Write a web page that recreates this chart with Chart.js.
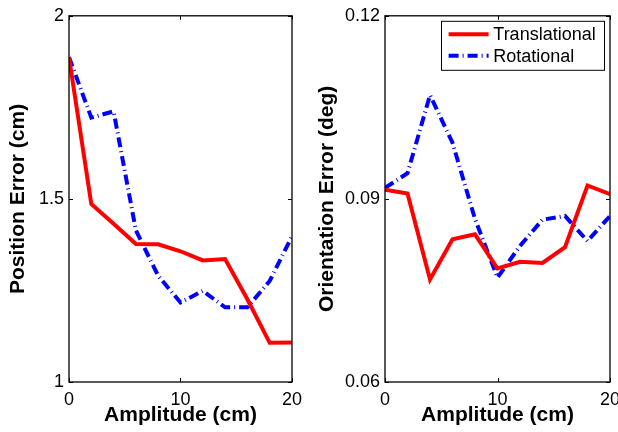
<!DOCTYPE html>
<html><head><meta charset="utf-8">
<script src="https://cdn.jsdelivr.net/npm/chart.js@4.4.1/dist/chart.umd.min.js"></script>
<style>
html,body{margin:0;padding:0;background:#fff;width:618px;height:432px;overflow:hidden;position:relative}
.c{position:absolute;top:0;height:432px}
</style></head><body>
<div class="c" style="left:0;width:309px"><canvas id="c1" width="309" height="432"></canvas></div>
<div class="c" style="left:309px;width:340px"><canvas id="c2" width="340" height="432"></canvas></div>
<script>
// ---- data ----
const amplitude = [0, 2, 4, 6, 8, 10, 12, 14, 16, 18, 20];
const posTranslational = [1.887, 1.486, 1.432, 1.377, 1.376, 1.357, 1.332, 1.336, 1.226, 1.107, 1.108];
const posRotational    = [1.887, 1.722, 1.739, 1.414, 1.290, 1.217, 1.249, 1.204, 1.204, 1.276, 1.398];
const oriTranslational = [0.0915, 0.0909, 0.0768, 0.0834, 0.0842, 0.0786, 0.0797, 0.0795, 0.0821, 0.0922, 0.0908];
const oriRotational    = [0.0918, 0.0942, 0.1070, 0.0992, 0.0867, 0.0771, 0.0823, 0.0866, 0.0872, 0.0831, 0.0872];
const xTickValues = [0, 10, 20];
const xTickLabels = ['0', '10', '20'];
const posTickValues = [1, 1.5, 2];
const posTickLabels = ['1', '1.5', '2'];
const oriTickValues = [0.06, 0.09, 0.12];
const oriTickLabels = ['0.06', '0.09', '0.12'];
const seriesLabels = ['Translational', 'Rotational'];
const xTitle = 'Amplitude (cm)';
const posTitle = 'Position Error (cm)';
const oriTitle = 'Orientation Error (deg)';

const FONT = '"Liberation Sans", Arial, Helvetica, sans-serif';

const framePlugin = {
  id: 'frame',
  afterDatasetsDraw(chart) {
    const {ctx, chartArea: a, scales: {x, y}} = chart;
    ctx.save();
    ctx.strokeStyle = '#000';
    ctx.lineWidth = 1.3;
    ctx.setLineDash([]);
    ctx.strokeRect(a.left, a.top, a.right - a.left, a.bottom - a.top);
    const L = 4;
    ctx.lineWidth = 1;
    ctx.beginPath();
    x.ticks.forEach(t => {
      const px = Math.round(x.getPixelForValue(t.value)) + 0.5;
      ctx.moveTo(px, a.bottom); ctx.lineTo(px, a.bottom - L);
      ctx.moveTo(px, a.top); ctx.lineTo(px, a.top + L);
    });
    y.ticks.forEach(t => {
      const py = Math.round(y.getPixelForValue(t.value)) + 0.5;
      ctx.moveTo(a.left, py); ctx.lineTo(a.left + L, py);
      ctx.moveTo(a.right, py); ctx.lineTo(a.right - L, py);
    });
    ctx.stroke();
    ctx.restore();
  }
};

const boxLegendPlugin = {
  id: 'boxLegend',
  afterDraw(chart, args, opts) {
    if (!opts.show) return;
    const {ctx, chartArea: a} = chart;
    const w = 163, h = 49;
    const x0 = a.right - 6 - w, y0 = a.top + 5;
    ctx.save();
    ctx.fillStyle = '#fff';
    ctx.fillRect(x0, y0, w, h);
    ctx.strokeStyle = '#000';
    ctx.lineWidth = 1;
    ctx.strokeRect(x0 + 0.5, y0 + 0.5, w, h);
    chart.data.datasets.forEach((ds, i) => {
      const yy = y0 + 13.4 + i * 21.6;
      ctx.beginPath();
      ctx.setLineDash(ds.borderDash || []);
      ctx.strokeStyle = ds.borderColor;
      ctx.lineWidth = ds.borderWidth;
      ctx.moveTo(x0 + 7.6, yy); ctx.lineTo(x0 + 47.6, yy);
      ctx.stroke();
      ctx.setLineDash([]);
      ctx.fillStyle = '#000';
      ctx.font = '18px ' + FONT;
      ctx.textBaseline = 'middle';
      ctx.textAlign = 'left';
      ctx.fillText(ds.label, x0 + 52.3, yy + 1);
    });
    ctx.restore();
  }
};

function makeChart(id, tData, rData, yTicks, yLabels, yTitle, yWidth, padRight, showLegend) {
  const toPts = arr => arr.map((v, i) => ({x: amplitude[i], y: v}));
  return new Chart(document.getElementById(id), {
    type: 'line',
    data: {
      datasets: [
        {label: seriesLabels[0], data: toPts(tData), borderColor: '#ff0000', borderWidth: 4,
         pointRadius: 0, tension: 0, fill: false, borderJoinStyle: 'miter'},
        {label: seriesLabels[1], data: toPts(rData), borderColor: '#0000ff', borderWidth: 4,
         borderDash: [10, 4, 1, 4], pointRadius: 0, tension: 0, fill: false}
      ]
    },
    options: {
      responsive: false,
      animation: false,
      devicePixelRatio: 1,
      layout: {padding: {top: 13, right: padRight, left: 0, bottom: 0}},
      plugins: {legend: {display: false}, tooltip: {enabled: false}, boxLegend: {show: showLegend}},
      scales: {
        x: {
          type: 'linear', min: xTickValues[0], max: xTickValues[xTickValues.length - 1],
          afterBuildTicks: s => { s.ticks = xTickValues.map(v => ({value: v})); },
          afterFit: s => { s.height = 50; },
          grid: {display: false, drawTicks: false},
          border: {display: false},
          ticks: {color: '#000', font: {family: FONT, size: 18}, padding: 7, maxRotation: 0, autoSkip: false,
                  callback: (v) => xTickLabels[xTickValues.indexOf(v)]},
          title: {display: true, text: xTitle, color: '#000', font: {family: FONT, size: 21, weight: 'bold'},
                  padding: {top: 0, bottom: 4}}
        },
        y: {
          type: 'linear', min: yTicks[0], max: yTicks[yTicks.length - 1],
          afterBuildTicks: s => { s.ticks = yTicks.map(v => ({value: v})); },
          afterFit: s => { s.width = yWidth; },
          grid: {display: false, drawTicks: false},
          border: {display: false},
          ticks: {color: '#000', font: {family: FONT, size: 18}, padding: 5, autoSkip: false,
                  callback: (v) => { const k = yTicks.findIndex(t => Math.abs(t - v) < 1e-9); return yLabels[k]; }},
          title: {display: true, text: yTitle, color: '#000', font: {family: FONT, size: 21, weight: 'bold'},
                  padding: {top: 6, bottom: 0}}
        }
      }
    },
    plugins: [framePlugin, boxLegendPlugin]
  });
}

makeChart('c1', posTranslational, posRotational, posTickValues, posTickLabels, posTitle, 69, 16, false);
makeChart('c2', oriTranslational, oriRotational, oriTickValues, oriTickLabels, oriTitle, 76, 39, true);
</script>
</body></html>
